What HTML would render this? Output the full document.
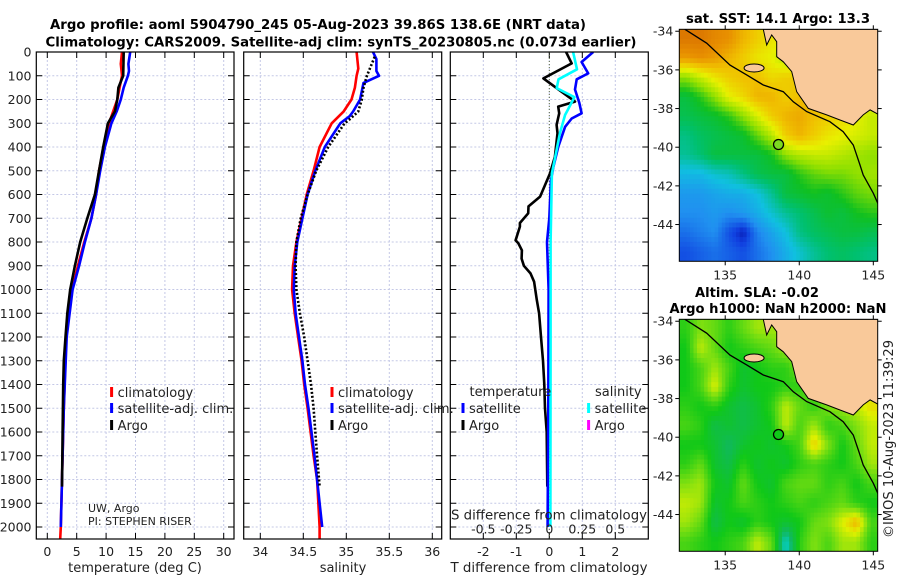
<!DOCTYPE html>
<html><head><meta charset="utf-8">
<style>
html,body{margin:0;padding:0;background:#fff;}
svg{display:block;font-family:"DejaVu Sans","Liberation Sans",sans-serif;}
</style></head>
<body>
<svg id="fig" width="900" height="580" viewBox="0 0 900 580" xmlns="http://www.w3.org/2000/svg">
<rect x="0" y="0" width="900" height="580" fill="#fff"/>
<text x="318" y="29" font-size="13.5" font-weight="bold" text-anchor="middle" textLength="536" lengthAdjust="spacingAndGlyphs">Argo profile: aoml 5904790_245 05-Aug-2023 39.86S 138.6E (NRT data)</text>
<text x="341" y="46.5" font-size="13.5" font-weight="bold" text-anchor="middle" textLength="591" lengthAdjust="spacingAndGlyphs">Climatology: CARS2009. Satellite-adj clim: synTS_20230805.nc (0.073d earlier)</text>
<text x="778" y="23" font-size="13.5" font-weight="bold" text-anchor="middle" textLength="184" lengthAdjust="spacingAndGlyphs">sat. SST: 14.1 Argo: 13.3</text>
<text x="757" y="297" font-size="13.5" font-weight="bold" text-anchor="middle" textLength="124" lengthAdjust="spacingAndGlyphs">Altim. SLA: -0.02</text>
<text x="778" y="313" font-size="13.5" font-weight="bold" text-anchor="middle" textLength="217" lengthAdjust="spacingAndGlyphs">Argo h1000: NaN h2000: NaN</text>
<text transform="translate(893,439) rotate(-90)" font-size="13" text-anchor="middle" textLength="198" lengthAdjust="spacingAndGlyphs" fill="#222">©IMOS 10-Aug-2023 11:39:29</text>
<g id="layer"></g>
</svg>
<script>
// ---------- profile data (depth in m) ----------
const tempClimDepth=[0,50,100,150,200,300,400,500,600,700,800,900,1000,1200,1500,2000,2050];
const tempClim=[12.7,12.5,12.7,12.3,11.9,10.5,9.6,8.8,8.3,7.5,6.3,5.2,4.2,3.2,2.8,2.3,2.2];
const tempSatDepth=[0,50,80,100,150,200,250,300,400,500,600,700,800,900,1000,1200,1500,2000];
const tempSat=[14.1,13.8,13.9,13.7,13.0,12.5,11.8,10.9,9.8,9.0,8.3,7.5,6.4,5.4,4.3,3.3,2.8,2.3];
const tempArgoDepth=[0,100,150,200,250,300,400,500,600,700,800,900,1000,1100,1200,1300,1400,1600,1830];
const tempArgo=[13.0,12.9,12.1,11.9,11.5,10.3,9.5,8.8,8.1,6.8,5.6,4.7,3.9,3.4,3.1,2.8,2.7,2.6,2.5];

const salClimDepth=[0,70,100,150,200,250,300,400,500,600,700,800,900,1000,1100,1200,1300,1400,1500,1700,1800,2000,2050];
const salClim=[35.12,35.14,35.12,35.10,35.06,34.97,34.83,34.69,34.62,34.54,34.48,34.42,34.38,34.37,34.40,34.44,34.48,34.51,34.55,34.62,34.66,34.69,34.69];
const salSatDepth=[0,30,80,100,130,200,250,270,300,400,500,600,700,800,900,1000,1100,1200,1300,1400,1500,1700,2000];
const salSat=[35.31,35.35,35.35,35.38,35.20,35.16,35.08,35.04,34.93,34.75,34.64,34.55,34.49,34.43,34.40,34.39,34.41,34.45,34.49,34.52,34.56,34.63,34.72];
const salArgoDepth=[20,100,150,200,250,280,300,400,500,600,700,800,900,1000,1100,1200,1300,1400,1500,1600,1700,1830];
const salArgo=[35.33,35.24,35.20,35.18,35.14,35.05,34.98,34.79,34.65,34.55,34.47,34.42,34.41,34.42,34.46,34.51,34.55,34.59,34.62,34.64,34.66,34.69];

const dTArgoDepth=[0,48,111,209,230,258,307,342,441,511,609,650,679,720,735,793,805,835,870,900,932,967,1044,1100,1200,1300,1400,1500,1600,1830];
const dTArgo=[0.51,0.68,-0.18,0.78,0.27,0.30,0.22,0.25,0.17,0.02,-0.28,-0.63,-0.64,-0.89,-0.89,-1.02,-0.94,-0.83,-0.84,-0.77,-0.57,-0.46,-0.38,-0.31,-0.25,-0.19,-0.15,-0.13,-0.08,-0.06];
const dTSatDepth=[0,42,90,115,158,214,258,280,315,400,485,540,700,800,1000,1500,2000];
const dTSat=[1.33,0.98,1.18,0.83,0.78,0.91,0.98,0.68,0.48,0.27,0.12,0.05,0.0,-0.07,-0.02,-0.03,-0.05];
const dSSatDepth=[0,73,115,152,190,244,265,342,455,511,800,1200,2000];
const dSSat=[0.18,0.21,0.07,0.056,0.19,0.14,0.12,0.08,0.04,0.02,0.01,0.01,0.008];

const depthTicks=[0,100,200,300,400,500,600,700,800,900,1000,1100,1200,1300,1400,1500,1600,1700,1800,1900,2000];
const tempTicks=[0,5,10,15,20,25,30];
const salTicks=[34,34.5,35,35.5,36];
const salTickLabels=["34","34.5","35","35.5","36"];
const dTTicks=[-2,-1,0,1,2];
const dSTicks=[-0.5,-0.25,0,0.25,0.5];
const dSTickLabels=["-0.5","-0.25","0","0.25","0.5"];

// ---------- map data ----------
const sstGrid=[
[15.6,15.6,15.4,15.3,15.0,14.8,14.6,14.6,14.6,14.6,14.6,14.6,14.6,14.6],
[15.2,15.3,15.2,15.0,14.8,14.6,14.5,14.2,14.4,14.6,14.6,14.6,14.6,14.6],
[14.0,14.3,14.6,14.8,14.9,14.9,14.7,14.8,14.8,14.7,14.6,14.6,14.6,14.6],
[13.3,13.6,14.0,14.5,14.7,15.0,15.0,14.8,14.9,14.9,14.8,14.6,14.6,14.6],
[13.2,13.3,13.4,13.6,14.0,14.4,14.8,15.0,15.1,14.9,14.8,14.7,14.5,14.3],
[12.9,13.1,13.2,13.3,13.4,13.8,14.2,14.8,15.0,14.8,14.6,14.5,14.4,14.3],
[12.8,13.0,13.3,13.3,13.3,13.3,13.5,14.0,14.2,14.3,14.3,14.2,14.1,14.0],
[12.3,12.3,12.5,12.6,12.9,13.2,13.3,13.3,13.6,13.8,13.9,13.9,14.0,14.1],
[12.0,12.0,12.1,12.2,12.2,12.4,12.8,13.3,13.4,13.5,13.4,13.6,13.8,13.9],
[11.9,11.9,12.0,11.9,12.0,12.2,12.5,12.8,13.0,13.2,13.4,13.3,13.5,13.6],
[11.7,11.8,11.9,11.5,11.2,11.8,12.1,12.4,12.9,13.1,13.2,13.3,13.3,13.2],
[11.5,11.6,11.7,11.6,11.5,11.7,11.9,12.2,12.5,12.8,13.0,13.1,13.0,12.9]];
const slaGrid=[
[-0.02,0.01,0.0,-0.02,0.0,0.02,0.02,0.02,0.02,0.02,0.02,0.02,0.02,0.02],
[-0.03,0.03,0.0,-0.03,-0.02,-0.01,0.0,0.02,0.02,0.02,0.02,0.02,0.02,0.02],
[-0.03,-0.01,0.02,-0.01,-0.04,-0.03,-0.02,-0.02,0.01,0.02,0.02,0.02,0.02,0.02],
[-0.03,-0.01,0.04,-0.02,-0.04,-0.03,-0.03,-0.02,-0.02,0.01,0.02,0.02,0.02,0.03],
[-0.02,-0.03,-0.02,-0.04,-0.05,-0.04,-0.02,0.03,0.0,-0.02,0.01,0.02,0.03,0.05],
[-0.01,-0.02,-0.05,-0.04,-0.05,-0.04,-0.03,0.03,-0.01,0.02,-0.02,-0.01,0.01,0.03],
[-0.03,-0.03,-0.04,-0.06,-0.04,-0.03,-0.04,-0.03,-0.01,0.06,0.01,-0.03,0.0,0.03],
[-0.02,0.0,-0.04,-0.05,-0.02,-0.04,-0.03,-0.04,-0.02,-0.01,-0.02,-0.03,-0.01,0.02],
[0.01,0.02,-0.03,-0.04,0.0,-0.03,-0.04,-0.01,0.0,0.0,-0.02,-0.01,-0.03,-0.01],
[0.03,0.02,-0.04,-0.03,-0.01,-0.02,-0.03,-0.02,-0.01,-0.02,-0.01,0.0,-0.02,-0.03],
[0.02,0.0,-0.05,-0.03,-0.04,-0.02,-0.03,-0.04,-0.03,0.0,0.01,0.04,0.07,-0.01],
[-0.01,-0.02,-0.03,-0.02,-0.01,0.03,0.0,-0.09,-0.02,0.01,-0.01,0.02,0.02,-0.02]];
const latTicks=[-34,-36,-38,-40,-42,-44];
const lonTicks=[135,140,145];
const argoLon=138.6, argoLat=-39.86;
const landLon=[137.57,137.80,138.14,138.48,138.48,138.92,139.49,139.83,140.61,141.85,142.75,143.65,144.32,144.78,145.4,145.4];
const landLat=[-33.9,-34.71,-34.19,-34.54,-35.32,-35.58,-36.09,-37.13,-37.99,-38.33,-38.59,-38.85,-38.33,-38.07,-38.33,-33.9];
const shelfLon=[132.28,133.75,135.32,136.45,137.57,138.92,139.60,140.50,142.07,142.97,143.65,144.10,144.32,145.0,145.3];
const shelfLat=[-33.9,-34.62,-35.75,-36.26,-36.78,-37.13,-37.65,-38.16,-38.68,-39.20,-39.89,-40.92,-41.44,-42.38,-42.9];

const NS="http://www.w3.org/2000/svg";
const layer=document.getElementById('layer');
function mk(tag,attrs,parent){const e=document.createElementNS(NS,tag);for(const k in attrs)e.setAttribute(k,attrs[k]);(parent||layer).appendChild(e);return e;}

// ---------- axes ----------
const Y0=52, Y1=539;
const yD=d=>Y0+d*0.2375;
const xT=v=>47.3+v*5.88;
const xS=s=>303.3+(s-34.5)*86;
const xDT=v=>549.3+v*33;
const xDS=v=>549.3+v*132;
const panels=[{x0:36.3,x1:234,n:'temperature-panel'},{x0:243.7,x1:441.7,n:'salinity-panel'},{x0:450.3,x1:648.3,n:'difference-panel'}];
const defs=mk('defs',{});
panels.forEach((p,i)=>{
  const cp=mk('clipPath',{id:'clip'+i},defs);
  mk('rect',{x:p.x0,y:Y0,width:p.x1-p.x0,height:Y1-Y0},cp);
});

function grid(i,xs){
  const p=panels[i];
  const g=mk('g',{});
  
  
  depthTicks.forEach(d=>{
    const y=yD(d);
    mk('line',{x1:p.x0,x2:p.x1,y1:y,y2:y,stroke:'#c4c8e6','stroke-width':1,'stroke-dasharray':'2,2'},g);
    mk('line',{x1:p.x0,x2:p.x0+6,y1:y,y2:y,stroke:'#000','stroke-width':1},g);
    mk('line',{x1:p.x1-6,x2:p.x1,y1:y,y2:y,stroke:'#000','stroke-width':1},g);
  });
  xs.forEach(x=>{
    mk('line',{x1:x,x2:x,y1:Y0,y2:Y1,stroke:'#c4c8e6','stroke-width':1,'stroke-dasharray':'2,2'},g);
    mk('line',{x1:x,x2:x,y1:Y1-6,y2:Y1,stroke:'#000','stroke-width':1},g);
    mk('line',{x1:x,x2:x,y1:Y0,y2:Y0+6,stroke:'#000','stroke-width':1},g);
  });
}
grid(0,tempTicks.map(xT));
grid(1,salTicks.map(xS));
grid(2,dTTicks.map(xDT));
const zl=mk('line',{x1:xDT(0),x2:xDT(0),y1:Y0,y2:Y1,stroke:'#5a6a40','stroke-width':1,'stroke-dasharray':'1,2'});



function series(depths,vals,xf,color,w,dash,name,ci){
  const pts=depths.map((d,k)=>xf(vals[k]).toFixed(1)+','+yD(d).toFixed(1)).join(' ');
  const a={points:pts,fill:'none',stroke:color,'stroke-width':w,'stroke-linejoin':'round','clip-path':'url(#clip'+ci+')'};
  if(dash)a['stroke-dasharray']=dash;
  const e=mk('polyline',a);
  
  
}
series(tempClimDepth,tempClim,xT,'#f00',2.6,null,'temperature-climatology-line',0);
series(tempSatDepth,tempSat,xT,'#00f',2.6,null,'temperature-satellite-adj-line',0);
series(tempArgoDepth,tempArgo,xT,'#000',2.6,null,'temperature-argo-line',0);
series(salClimDepth,salClim,xS,'#f00',2.6,null,'salinity-climatology-line',1);
series(salSatDepth,salSat,xS,'#00f',2.6,null,'salinity-satellite-adj-line',1);
series(salArgoDepth,salArgo,xS,'#000',2.6,'2,2','salinity-argo-line',1);
series(dTArgoDepth,dTArgo,xDT,'#000',2.6,null,'t-diff-argo-line',2);
series(dTSatDepth,dTSat,xDT,'#00f',2.6,null,'t-diff-satellite-line',2);
series(dSSatDepth,dSSat,xDS,'#0ff',2.6,null,'s-diff-satellite-line',2);

panels.forEach(p=>{
  const r=mk('rect',{x:p.x0,y:Y0,width:p.x1-p.x0,height:Y1-Y0,fill:'none',stroke:'#000','stroke-width':1.2});
  
  
});

function txt(x,y,s,size,anchor,name,extra){
  const a={x:x,y:y,'font-size':size,'text-anchor':anchor||'start',fill:'#222'};
  if(extra)for(const k in extra)a[k]=extra[k];
  const e=mk('text',a);e.textContent=s;
  
  
  return e;
}
depthTicks.forEach(d=>{txt(31.5,yD(d)+4.5,String(d),12.5,'end','depth-tick-label');});
tempTicks.forEach(v=>{txt(xT(v),556,String(v),12.5,'middle','temperature-tick-label');});
salTicks.forEach((v,k)=>{txt(xS(v),556,salTickLabels[k],12.5,'middle','salinity-tick-label');});
dTTicks.forEach(v=>{txt(xDT(v),556,String(v),12.5,'middle','t-diff-tick-label');});
dSTicks.forEach((v,k)=>{txt(xDS(v),533.5,dSTickLabels[k],12.5,'middle','s-diff-tick-label');});
txt(135,572,'temperature (deg C)',13,'middle','temperature-axis-title');
txt(343,572,'salinity',13,'middle','salinity-axis-title');
txt(549,572,'T difference from climatology',13,'middle','t-diff-axis-title',{textLength:197,lengthAdjust:'spacingAndGlyphs'});
txt(549,519.5,'S difference from climatology',13,'middle','s-diff-axis-title',{textLength:196,lengthAdjust:'spacingAndGlyphs'});
txt(88,512,'UW, Argo',11,'start','institution-label');
txt(88,525,'PI: STEPHEN RISER',11,'start','pi-label');

function legendItem(x,y,color,label,name){
  const m=mk('rect',{x:x-1.5,y:y-10,width:3,height:10,fill:color});
  
  
  txt(x+6,y,label,13,'start',name+'-label');
}
[[111.6,'temperature'],[332,'salinity']].forEach(([lx,n])=>{
  legendItem(lx,397,'#f00','climatology',n+'-legend-climatology');
  legendItem(lx,413,'#00f','satellite-adj. clim.',n+'-legend-satellite');
  legendItem(lx,430,'#000','Argo',n+'-legend-argo');
});
txt(469.5,396,'temperature',13,'start','t-diff-legend-header');
txt(595,396,'salinity',13,'start','s-diff-legend-header');
legendItem(463,413,'#00f','satellite','t-diff-legend-satellite');
legendItem(463,430,'#000','Argo','t-diff-legend-argo');
legendItem(588.6,413,'#0ff','satellite','s-diff-legend-satellite');
legendItem(588.6,430,'#f0f','Argo','s-diff-legend-argo');

// ---------- maps ----------
function hex(c){return [parseInt(c.slice(1,3),16),parseInt(c.slice(3,5),16),parseInt(c.slice(5,7),16)];}
function cmap(stops,v){
  if(v<=stops[0][0])return stops[0][1];
  for(let k=1;k<stops.length;k++){
    if(v<=stops[k][0]){const t=(v-stops[k-1][0])/(stops[k][0]-stops[k-1][0]);const a=hex(stops[k-1][1]),b=hex(stops[k][1]);
      return 'rgb('+a.map((q,j)=>Math.round(q+(b[j]-q)*t)).join(',')+')';}
  }
  return stops[stops.length-1][1];
}
const sstStops=[[11.0,'#00008c'],[11.4,'#1040e0'],[11.9,'#2090f0'],[12.4,'#10c0e0'],[13.0,'#00c070'],[13.5,'#10c020'],[14.0,'#90e000'],[14.5,'#e8f000'],[14.9,'#f0c000'],[15.3,'#e89000'],[15.7,'#d87000']];
const slaStops=[[-0.1,'#00d8f0'],[-0.06,'#10b860'],[-0.03,'#10c818'],[0.01,'#80e010'],[0.04,'#e0f000'],[0.07,'#f0b000'],[0.1,'#e88000']];

function drawMap(dy,gridV,stops,name,dotFill){
  const X0=679.3,X1=877.7,T0=29.3+dy,B0=261.3+dy;
  const lx=l=>X0+(l-131.9)*14.81;
  const ly=la=>T0+(-33.9-la)*19.33;
  const g=mk('g',{});
  
  
  const cp=mk('clipPath',{id:'mclip'+dy},defs);
  mk('rect',{x:X0,y:T0,width:X1-X0,height:B0-T0},cp);
  const hm=mk('g',{'clip-path':'url(#mclip'+dy+')'},g);
  
  
  const R=gridV.length,C=gridV[0].length,dl=13.4/C,S=4;
  const val=(r,c)=>gridV[Math.max(0,Math.min(R-1,r))][Math.max(0,Math.min(C-1,c))];
  for(let r=0;r<R;r++)for(let c=0;c<C;c++)for(let a=0;a<S;a++)for(let b=0;b<S;b++){
    const fr=r+(a+0.5)/S-0.5, fc=c+(b+0.5)/S-0.5;
    const r0=Math.floor(fr),c0=Math.floor(fc),tr=fr-r0,tc=fc-c0;
    const v=val(r0,c0)*(1-tr)*(1-tc)+val(r0,c0+1)*(1-tr)*tc+val(r0+1,c0)*tr*(1-tc)+val(r0+1,c0+1)*tr*tc;
    const lon0=131.9+(c+b/S)*dl, lat0=-33.9-(r+a/S);
    const x=lx(lon0),y=ly(lat0);
    const cell=mk('rect',{x:x.toFixed(2),y:y.toFixed(2),width:(dl/S*14.81+0.4).toFixed(2),height:(19.33/S+0.4).toFixed(2),fill:cmap(stops,v)},hm);
    
    
  }
  const poly=(lons,lats)=>lons.map((l,k)=>lx(l).toFixed(1)+','+ly(lats[k]).toFixed(1)).join(' ');
  const land=mk('polygon',{points:poly(landLon,landLat),fill:'#f9c99a',stroke:'#000','stroke-width':1,'clip-path':'url(#mclip'+dy+')'},g);
  
  
  const ki=mk('ellipse',{cx:lx(136.95),cy:ly(-35.9),rx:10,ry:4,fill:'#f9c99a',stroke:'#000','stroke-width':1},g);
  
  
  const sh=mk('polyline',{points:poly(shelfLon,shelfLat),fill:'none',stroke:'#000','stroke-width':1.3,'clip-path':'url(#mclip'+dy+')'},g);
  
  
  const dot=mk('circle',{cx:lx(argoLon),cy:ly(argoLat),r:5,fill:dotFill,stroke:'#000','stroke-width':1.3},g);
  
  
  const fr=mk('rect',{x:X0,y:T0,width:X1-X0,height:B0-T0,fill:'none',stroke:'#000','stroke-width':1},g);
  
  
  latTicks.forEach(la=>{
    const y=ly(la);
    mk('line',{x1:X0-4,x2:X0,y1:y,y2:y,stroke:'#000'},g);
    mk('line',{x1:X1,x2:X1+4,y1:y,y2:y,stroke:'#000'},g);
    txt(X0-6,y+4.5,String(la),12.5,'end','map-lat-tick-label');
  });
  lonTicks.forEach(lo=>{
    const x=lx(lo);
    mk('line',{x1:x,x2:x,y1:B0,y2:B0+4,stroke:'#000'},g);
    mk('line',{x1:x,x2:x,y1:T0-4,y2:T0,stroke:'#000'},g);
    txt(x,B0+18,String(lo),12.5,'middle','map-lon-tick-label');
  });
}
drawMap(0,sstGrid,sstStops,'sst-map','#7cd820');
drawMap(290,slaGrid,slaStops,'sla-map','#10c818');
</script>
</body></html>
